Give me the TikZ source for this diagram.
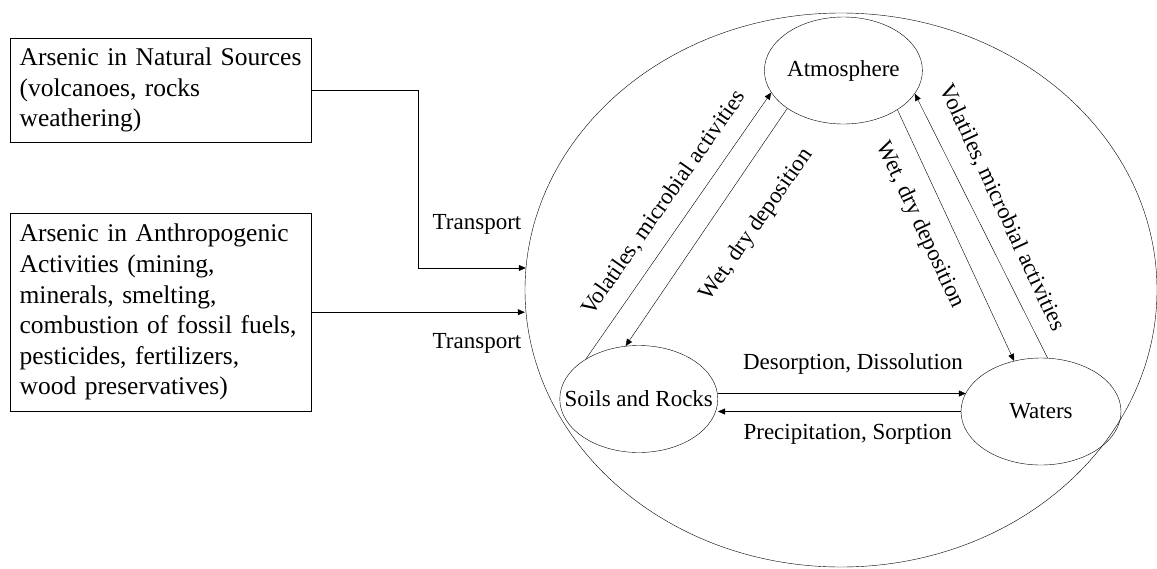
\documentclass[tikz,border=0pt]{standalone}
\usepackage{fontspec}
\setmainfont{Liberation Serif}
\usepackage{tikz}
\usetikzlibrary{shapes, arrows.meta, positioning}
\tikzset{
        x=1pt, y=-1pt, % one unit = one pixel of the figure, y going down
        line width=0.8pt,
        >={Triangle[length=7pt,width=6pt]}, % tip for every arrow
        every label/.style={font=\fontsize{23}{27}\selectfont, inner sep=0pt},
    }
\tikzstyle{source}=[draw,rectangle,anchor=north west,align=left,text width=283pt,inner xsep=9pt,minimum height=104pt,font=\fontsize{25.5}{30.6}\selectfont]
\tikzstyle{sphere}=[draw,ellipse,inner sep=0pt,minimum width=158pt,minimum height=107pt]
\tikzstyle{flow}=[font=\fontsize{23}{27}\selectfont,inner sep=0pt]

\begin{document}
\begin{tikzpicture}
    \useasboundingbox (0,0) rectangle (1157,568);

    % where the arsenic comes from
    \node[source] (nat) at (10.4,38)
        {Arsenic in Natural Sources\\(volcanoes, rocks\\weathering)};
    \node[source, minimum height=198pt] (anth) at (10.4,213)
        {Arsenic in Anthropogenic\\Activities (mining,\\minerals, smelting,\\combustion of fossil fuels,\\pesticides, fertilizers,\\wood preservatives)};

    % the environment and its three compartments
    \node[draw, ellipse, minimum width=632pt, minimum height=554pt] (env) at (841,290) {};
    \node[sphere, label=center:Atmosphere] (atm) at (843.4,70.5) {};
    \node[sphere, label=center:Soils and Rocks] (soil) at (638.8,399) {};
    \node[sphere, minimum width=160pt, label=center:Waters] (water) at (1041,411.5) {};

    % transport into the environment
    \draw[->] (nat.east) -- ++(106.5,0) |- (env.176);
    \draw[->] (anth.east) -- (env.west |- anth.east);
    \node[flow] (tr1) at (477,224) {Transport};
    \node[flow] (tr2) at (477,343) {Transport};

    % exchanges between the compartments
    \draw[->] (soil.143) -- (atm.197);
    \draw[->] (atm.214) -- (soil.104);
    \draw[->] (atm.324) -- (water.118);
    \draw[->] (water.83) -- (atm.342);
    \draw[->] (soil.4) -- (soil.4 -| water.166);
    \draw[->] (water.west) -- (water.west -| soil.east);

    \node[flow, rotate=55] (volL) at (664,203) {Volatiles, microbial activities};
    \node[flow, rotate=55] (wetL) at (757,225) {Wet, dry deposition};
    \node[flow, rotate=-65] (wetR) at (920,225) {Wet, dry deposition};
    \node[flow, rotate=-65] (volR) at (1002,208) {Volatiles, microbial activities};
    \node[flow] (des) at (853,364) {Desorption, Dissolution};
    \node[flow] (pre) at (847.7,434) {Precipitation, Sorption};
\end{tikzpicture}
\end{document}
